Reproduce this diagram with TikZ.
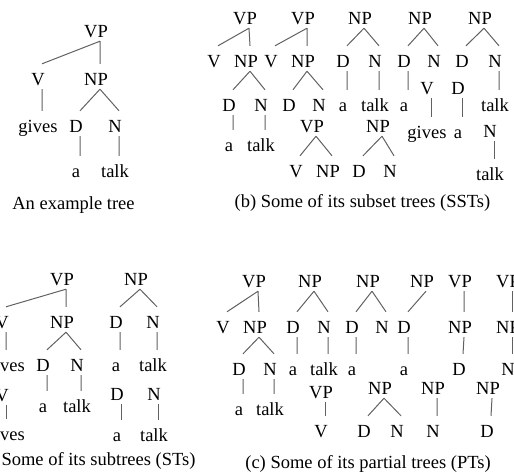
\documentclass[tikz,border=0pt]{standalone}
\usepackage{fontspec}
\setmainfont{Liberation Serif}
\usepackage{tikz}

\begin{document}
\begin{tikzpicture}[x=1pt,y=-1pt,font=\fontsize{18.5}{22}\selectfont,
  tn/.style={anchor=base,inner sep=0pt,text height=21pt,text depth=4pt,
    execute at begin node={\hspace*{-4pt}},execute at end node={\hspace*{4pt}}},
  br/.style={draw=black!62,line width=1pt},
  capt/.style={anchor=base,inner sep=0pt}]
\useasboundingbox (0,0) rectangle (514,474);

% example tree
\node[tn] (e) at (100,37) {VP};
\node[tn] (ea) at (42,85) {V};
\node[tn] (eb) at (100,85) {NP};
\node[tn] (eaa) at (42,132) {gives};
\node[tn] (eba) at (80,132) {D};
\node[tn] (ebb) at (119,132) {N};
\node[tn] (ebaa) at (80,177) {a};
\node[tn] (ebba) at (119,177) {talk};
\draw[br] (e.south) -- (ea.north) (e.south) -- (eb.north)
  (ea.south) -- (eaa.north) (eb.south) -- (eba.north) (eb.south) -- (ebb.north)
  (eba.south) -- (ebaa.north) (ebb.south) -- (ebba.north);
\node[capt] (ecap) at (73.5,209) {An example tree};

% subset trees
\node[tn] (s1) at (249,24) {VP};
\node[tn] (s1a) at (218,67) {V};
\node[tn] (s1b) at (250,67) {NP};
\node[tn] (s1ba) at (233,111) {D};
\node[tn] (s1bb) at (265,111) {N};
\node[tn] (s1baa) at (233,151) {a};
\node[tn] (s1bba) at (265,151) {talk};
\draw[br] (s1.south) -- (s1a.north) (s1.south) -- (s1b.north)
  (s1b.south) -- (s1ba.north) (s1b.south) -- (s1bb.north)
  (s1ba.south) -- (s1baa.north) (s1bb.south) -- (s1bba.north);

\node[tn] (s2) at (307,24) {VP};
\node[tn] (s2a) at (275,67) {V};
\node[tn] (s2b) at (307,67) {NP};
\node[tn] (s2ba) at (293,111) {D};
\node[tn] (s2bb) at (323,111) {N};
\draw[br] (s2.south) -- (s2a.north) (s2.south) -- (s2b.north)
  (s2b.south) -- (s2ba.north) (s2b.south) -- (s2bb.north);

\node[tn] (s3) at (364,24) {NP};
\node[tn] (s3a) at (347,67) {D};
\node[tn] (s3b) at (379,67) {N};
\node[tn] (s3aa) at (347,111) {a};
\node[tn] (s3ba) at (379,111) {talk};
\draw[br] (s3.south) -- (s3a.north) (s3.south) -- (s3b.north)
  (s3a.south) -- (s3aa.north) (s3b.south) -- (s3ba.north);

\node[tn] (s4) at (424,24) {NP};
\node[tn] (s4a) at (408,67) {D};
\node[tn] (s4b) at (438,67) {N};
\node[tn] (s4aa) at (408,111) {a};
\draw[br] (s4.south) -- (s4a.north) (s4.south) -- (s4b.north)
  (s4a.south) -- (s4aa.north);

\node[tn] (s5) at (431,94) {V};
\node[tn] (s5a) at (431,138) {gives};
\node[tn] (s6) at (462,94) {D};
\node[tn] (s6a) at (462,138) {a};
\draw[br] (s5.south) -- (s5a.north) (s6.south) -- (s6a.north);

\node[tn] (s7) at (484,24) {NP};
\node[tn] (s7a) at (466,67) {D};
\node[tn] (s7b) at (499,67) {N};
\node[tn] (s7ba) at (499,111) {talk};
\draw[br] (s7.south) -- (s7a.north) (s7.south) -- (s7b.north)
  (s7b.south) -- (s7ba.north);

\node[tn] (s8) at (494,137) {N};
\node[tn] (s8a) at (494,180) {talk};
\draw[br] (s8.south) -- (s8a.north);

\node[tn] (s9) at (316,132) {VP};
\node[tn] (s9a) at (300,177) {V};
\node[tn] (s9b) at (332,177) {NP};
\draw[br] (s9.south) -- (s9a.north) (s9.south) -- (s9b.north);

\node[tn] (s10) at (382,132) {NP};
\node[tn] (s10a) at (363,177) {D};
\node[tn] (s10b) at (394,177) {N};
\draw[br] (s10.south) -- (s10a.north) (s10.south) -- (s10b.north);
\node[capt] (scap) at (362.5,207) {(b) Some of its subset trees (SSTs)};

% subtrees
\node[tn] (u1) at (66,285) {VP};
\node[tn] (u1a) at (6,328) {V};
\node[tn] (u1b) at (66,328) {NP};
\node[tn,anchor=base west] (u1aa) at (4,371) {ves};
\node[tn] (u1ba) at (47,371) {D};
\node[tn] (u1bb) at (81,371) {N};
\node[tn] (u1baa) at (47,412) {a};
\node[tn] (u1bba) at (81,412) {talk};
\draw[br] (u1.south) -- (u1a.north) (u1.south) -- (u1b.north)
  (u1a.south) -- (u1a.south |- u1aa.north)
  (u1b.south) -- (u1ba.north) (u1b.south) -- (u1bb.north)
  (u1ba.south) -- (u1baa.north) (u1bb.south) -- (u1bba.north);

\node[tn] (u2) at (140,285) {NP};
\node[tn] (u2a) at (120,328) {D};
\node[tn] (u2b) at (157,328) {N};
\node[tn] (u2aa) at (120,371) {a};
\node[tn] (u2ba) at (157,371) {talk};
\draw[br] (u2.south) -- (u2a.north) (u2.south) -- (u2b.north)
  (u2a.south) -- (u2aa.north) (u2b.south) -- (u2ba.north);

\node[tn] (u3) at (6,401) {V};
\node[tn,anchor=base west] (u3a) at (4,440) {ves};
\node[tn] (u4) at (121,400) {D};
\node[tn] (u4a) at (121,441) {a};
\node[tn] (u5) at (158,400) {N};
\node[tn] (u5a) at (158,441) {talk};
\draw[br] (u3.south) -- (u3.south |- u3a.north) (u4.south) -- (u4a.north)
  (u5.south) -- (u5a.north);
\node[capt] (ucap) at (98.5,465) {Some of its subtrees (STs)};

% partial trees
\node[tn] (p1) at (258,287) {VP};
\node[tn] (p1a) at (227,333) {V};
\node[tn] (p1b) at (259,333) {NP};
\node[tn] (p1ba) at (243,375) {D};
\node[tn] (p1bb) at (274,375) {N};
\node[tn] (p1baa) at (243,415) {a};
\node[tn] (p1bba) at (274,415) {talk};
\draw[br] (p1.south) -- (p1a.north) (p1.south) -- (p1b.north)
  (p1b.south) -- (p1ba.north) (p1b.south) -- (p1bb.north)
  (p1ba.south) -- (p1baa.north) (p1bb.south) -- (p1bba.north);

\node[tn] (p2) at (314,287) {NP};
\node[tn] (p2a) at (297,333) {D};
\node[tn] (p2b) at (328,333) {N};
\node[tn] (p2aa) at (297,375) {a};
\node[tn] (p2ba) at (328,375) {talk};
\draw[br] (p2.south) -- (p2a.north) (p2.south) -- (p2b.north)
  (p2a.south) -- (p2aa.north) (p2b.south) -- (p2ba.north);

\node[tn] (p3) at (372,287) {NP};
\node[tn] (p3a) at (356,333) {D};
\node[tn] (p3b) at (386,333) {N};
\node[tn] (p3aa) at (356,375) {a};
\draw[br] (p3.south) -- (p3a.north) (p3.south) -- (p3b.north)
  (p3a.south) -- (p3aa.north);

\node[tn] (p4) at (426,287) {NP};
\node[tn] (p4a) at (408,333) {D};
\node[tn] (p4aa) at (408,375) {a};
\draw[br] (p4.south) -- (p4a.north) (p4a.south) -- (p4aa.north);

\node[tn] (p5) at (464,287) {VP};
\node[tn] (p5a) at (464,333) {NP};
\node[tn] (p5aa) at (463,375) {D};
\draw[br] (p5.south) -- (p5a.north) (p5a.south) -- (p5aa.north);

\node[tn] (p6) at (512,287) {VP};
\node[tn] (p6a) at (512,333) {NP};
\node[tn] (p6aa) at (512,375) {N};
\draw[br] (p6.south) -- (p6a.north) (p6a.south) -- (p6aa.north);

\node[tn] (p7) at (325,398) {VP};
\node[tn] (p7a) at (325,437) {V};
\draw[br] (p7.south) -- (p7a.north);

\node[tn] (p8) at (384,394) {NP};
\node[tn] (p8a) at (368,437) {D};
\node[tn] (p8b) at (401,437) {N};
\draw[br] (p8.south) -- (p8a.north) (p8.south) -- (p8b.north);

\node[tn] (p9) at (437,394) {NP};
\node[tn] (p9a) at (437,437) {N};
\node[tn] (p10) at (492,394) {NP};
\node[tn] (p10a) at (491,437) {D};
\draw[br] (p9.south) -- (p9a.north) (p10.south) -- (p10a.north);
\node[capt] (pcap) at (368,468) {(c) Some of its partial trees (PTs)};
\end{tikzpicture}
\end{document}
